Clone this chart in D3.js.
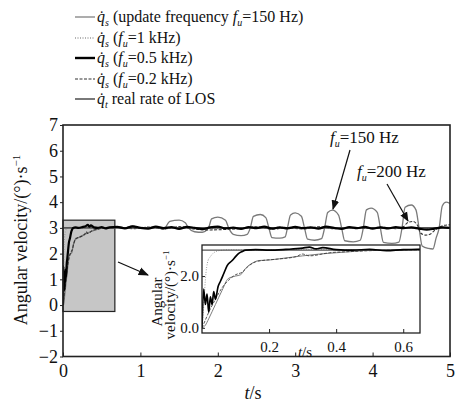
<!DOCTYPE html>
<html><head><meta charset="utf-8">
<script src="https://cdn.jsdelivr.net/npm/d3@7"></script>
<style>
body{margin:0;background:#fff}
text{font-family:"Liberation Serif","Times New Roman",serif;fill:#111}
</style>
</head><body><div id="chart"></div><script>
// ---- data ----
const t150 = [0,0.01,0.02,0.04,0.06,0.078,0.1,0.115,0.13,0.15,0.17,0.2,0.25,0.3,0.35,0.4,0.45,0.5,0.6,
  0.7,0.8,0.9,1.0,1.1,1.2,1.3,1.38,1.5,1.58,1.62,1.7,1.8,1.88,1.92,2.0,2.1,2.14,2.2,2.3,2.38,
  2.42,2.46,2.55,2.62,2.66,2.7,2.8,2.87,2.9,2.94,3.0,3.08,3.12,3.16,3.25,3.34,3.38,3.42,3.48,3.56,
  3.6,3.64,3.75,3.84,3.88,3.92,3.98,4.06,4.1,4.14,4.25,4.34,4.38,4.42,4.5,4.56,4.6,4.64,4.72,4.78,
  4.82,4.86,4.9,4.95,5.0];
const v150 = [0,0.1,0.35,0.9,1.45,1.9,2.0,2.05,2.3,2.5,2.6,2.62,2.7,2.78,2.85,2.9,2.95,3.0,3.02,
  3.05,3.0,3.08,2.98,3.0,3.05,2.95,3.25,3.3,3.2,3.0,2.85,2.83,3.0,3.35,3.42,3.3,3.0,2.75,2.7,2.75,
  3.0,3.45,3.52,3.4,3.0,2.62,2.6,2.65,3.0,3.5,3.58,3.45,3.0,2.56,2.52,2.58,3.0,3.6,3.69,3.5,
  3.0,2.5,2.46,2.52,3.0,3.7,3.77,3.6,3.0,2.44,2.4,2.45,3.0,3.8,3.89,3.7,3.0,2.3,2.2,2.18,
  2.6,3.0,3.85,4.0,3.95];

const t1k = [0,0.005,0.01,0.018,0.025,0.033,0.05,0.08,0.15,0.3,0.5,1,2,3,4,5];
const v1k = [0,0.8,1.85,2.6,2.75,2.88,2.98,3.02,3.0,3.03,3.0,3.02,2.98,3.02,2.99,3.0];

const t500 = [0,0.005,0.01,0.015,0.02,0.025,0.03,0.035,0.04,0.048,0.055,0.065,0.075,0.09,0.1,0.107,0.12,0.13,0.16,0.2,0.25,0.3,0.32,0.34,0.36,0.4,0.45,0.5,0.55,0.6,
  0.7,0.8,0.9,1.0,1.1,1.2,1.3,1.4,1.5,1.6,1.7,1.8,1.9,2.0,2.1,2.2,2.3,2.4,2.5,2.6,2.7,2.8,2.9,3.0,
  3.1,3.2,3.3,3.4,3.5,3.6,3.7,3.8,3.9,4.0,4.1,4.2,4.3,4.4,4.5,4.6,4.7,4.8,4.9,5.0];
const v500 = [0,1.5,0.9,1.3,0.6,1.2,0.9,1.4,1.1,1.6,1.8,2.1,2.4,2.6,2.75,2.85,2.95,3.0,3.02,3.0,3.03,3.08,3.12,3.05,3.1,3.02,3.0,3.03,2.98,3.02,
  3.04,2.98,3.06,3.0,2.97,3.05,2.99,3.03,2.96,3.04,3.0,2.95,3.02,3.05,2.98,3.01,2.96,3.03,2.99,3.05,2.97,3.02,2.98,3.04,
  2.99,3.02,2.97,3.05,3.0,2.96,3.03,2.99,3.04,2.97,3.02,2.98,3.03,2.99,3.02,2.97,2.93,2.97,3.02,3.0];

const t200 = [0,0.01,0.02,0.04,0.06,0.08,0.1,0.12,0.14,0.16,0.18,0.22,0.28,0.3,0.32,0.38,0.45,0.5,0.55,0.6,
  0.7,0.9,1.1,1.3,1.5,1.7,1.9,2.1,2.3,2.5,2.7,2.9,3.1,3.3,3.5,3.7,3.9,4.1,4.3,4.4,4.45,4.52,4.58,4.62,4.68,4.74,4.8,4.85,4.92,5.0];
const v200 = [0,0.3,0.6,1.1,1.55,1.85,2.05,2.15,2.4,2.55,2.6,2.65,2.75,2.85,2.78,2.9,2.95,2.98,3.0,3.0,
  3.02,2.97,3.03,2.96,3.05,2.95,2.92,2.94,2.97,3.04,2.95,3.0,2.96,3.04,2.97,3.02,2.98,3.03,2.97,3.05,3.2,3.25,3.1,2.8,2.72,2.75,2.9,3.0,3.1,3.12];

const tReal = [0,5];
const vReal = [3,3];

const xTicks = [0,1,2,3,4,5];
const yTicks = [-2,-1,0,1,2,3,4,5,6,7];
const insetXTicks = [0.2,0.4,0.6];
const insetYTicks = [0,2];

// legend text segments: i = italic, sub = italic subscript, n = normal
const legendRows = [
  [["q\u0307","i"],["s","sub"],[" (update frequency ","n"],["f","i"],["u","sub"],["=150 Hz)","n"]],
  [["q\u0307","i"],["s","sub"],[" (","n"],["f","i"],["u","sub"],["=1 kHz)","n"]],
  [["q\u0307","i"],["s","sub"],[" (","n"],["f","i"],["u","sub"],["=0.5 kHz)","n"]],
  [["q\u0307","i"],["s","sub"],[" (","n"],["f","i"],["u","sub"],["=0.2 kHz)","n"]],
  [["q\u0307","i"],["t","sub"],[" real rate of LOS","n"]]
];

// ---- series styles ----
const series = [
  {t: t150, v: v150, color: "#7a7a7a", w: 1.3, dash: null},
  {t: t1k, v: v1k, color: "#9a9a9a", w: 1.3, dash: "1,1.5"},
  {t: t200, v: v200, color: "#333", w: 1.1, dash: "3,1.5"},
  {t: tReal, v: vReal, color: "#555", w: 1.6, dash: null},
  {t: t500, v: v500, color: "#000", w: 2.2, dash: null}
];
const legendStyle = [
  {color: "#8a8a8a", w: 1.4, dash: null},
  {color: "#9a9a9a", w: 1.3, dash: "1,1.5"},
  {color: "#000", w: 2.4, dash: null},
  {color: "#333", w: 1.1, dash: "3,1.5"},
  {color: "#6a6a6a", w: 1.8, dash: null}
];

const W = 459, H = 404;
const svg = d3.select("#chart").append("svg").attr("width", W).attr("height", H);

const x = d3.scaleLinear().domain([0,5]).range([63,450]);
const y = d3.scaleLinear().domain([-2,7]).range([356.5,125]);

// clip for main plot
const defs = svg.append("defs");
defs.append("clipPath").attr("id","mainClip").append("rect")
  .attr("x",63).attr("y",125).attr("width",387).attr("height",231.5);

// gray zoom region
svg.append("rect")
  .attr("x", x(0)).attr("y", y(3.3))
  .attr("width", x(0.67)-x(0)).attr("height", y(-0.25)-y(3.3))
  .attr("fill","#c6c6c6").attr("stroke","#222").attr("stroke-width",1.2);

function drawLines(g, xs, ys, clip, k) {
  const gg = g.append("g").attr("clip-path", `url(#${clip})`);
  series.forEach(s => {
    const pts = s.t.map((t,i) => [t, s.v[i]]);
    gg.append("path")
      .attr("d", d3.line().x(d => xs(d[0])).y(d => ys(d[1])).curve(d3.curveMonotoneX)(pts))
      .attr("fill","none").attr("stroke", s.color).attr("stroke-width", s.w * k)
      .attr("stroke-dasharray", s.dash).attr("stroke-linejoin","round");
  });
}
drawLines(svg, x, y, "mainClip", 1);

// main frame
svg.append("rect").attr("x",63).attr("y",125).attr("width",387).attr("height",231.5)
  .attr("fill","none").attr("stroke","#222").attr("stroke-width",1.6);

// axes
const xAxis = svg.append("g").attr("transform","translate(0,356.5)")
  .call(d3.axisBottom(x).tickValues(xTicks).tickSizeInner(-4).tickSizeOuter(0).tickPadding(8).tickFormat(d3.format("d")));
xAxis.select(".domain").remove();
xAxis.selectAll("text").attr("font-size",18).attr("fill","#111");
xAxis.selectAll("line").attr("stroke","#222");

const yAxis = svg.append("g").attr("transform","translate(63,0)")
  .call(d3.axisLeft(y).tickValues(yTicks).tickSizeInner(3).tickSizeOuter(0).tickPadding(2)
    .tickFormat(d => d < 0 ? "\u2212" + Math.abs(d) : d));
yAxis.select(".domain").remove();
yAxis.selectAll("text").attr("font-size",18).attr("fill","#111");
yAxis.selectAll("line").attr("stroke","#222");

// axis titles
const yl = svg.append("text").attr("transform","translate(27,240) rotate(-90)")
  .attr("text-anchor","middle").attr("font-size",18);
yl.append("tspan").text("Angular velocity/(\u00b0)\u00b7s");
yl.append("tspan").attr("dy",-7).attr("font-size",11).text("\u22121");

const xl = svg.append("text").attr("x",253).attr("y",399).attr("text-anchor","middle").attr("font-size",18);
xl.append("tspan").attr("font-style","italic").text("t");
xl.append("tspan").text("/s");

// arrow marker
defs.append("marker").attr("id","arr").attr("viewBox","0 0 10 10").attr("refX",9).attr("refY",5)
  .attr("markerWidth",8).attr("markerHeight",8).attr("orient","auto-start-reverse")
  .append("path").attr("d","M0,1 L10,5 L0,9 Z").attr("fill","#111");

svg.append("line").attr("x1",118).attr("y1",262).attr("x2",148).attr("y2",275)
  .attr("stroke","#111").attr("stroke-width",1.3).attr("marker-end","url(#arr)");

// ---- inset ----
const xi = d3.scaleLinear().domain([0,0.65]).range([202,420]);
const yi = d3.scaleLinear().domain([-0.2,3.2]).range([333,245]);
defs.append("clipPath").attr("id","insetClip").append("rect")
  .attr("x",202).attr("y",245).attr("width",218).attr("height",88);

svg.append("rect").attr("x",202).attr("y",245).attr("width",218).attr("height",88).attr("fill","#fff");
drawLines(svg, xi, yi, "insetClip", 0.75);
svg.append("rect").attr("x",202).attr("y",245).attr("width",218).attr("height",88)
  .attr("fill","none").attr("stroke","#222").attr("stroke-width",1.3);

const xiAxis = svg.append("g").attr("transform","translate(0,333)")
  .call(d3.axisBottom(xi).tickValues(insetXTicks).tickSizeInner(-4).tickSizeOuter(0).tickPadding(8)
    .tickFormat(d3.format(".1f")));
xiAxis.select(".domain").remove();
xiAxis.selectAll("text").attr("font-size",15).attr("fill","#333");
xiAxis.selectAll("line").attr("stroke","#222");

const yiAxis = svg.append("g").attr("transform","translate(202,0)")
  .call(d3.axisLeft(yi).tickValues(insetYTicks).tickSizeInner(-3).tickSizeOuter(0).tickPadding(3));
yiAxis.select(".domain").remove();
yiAxis.selectAll("text").attr("font-size",15).attr("fill","#333");
yiAxis.selectAll("line").attr("stroke","#222");

const xil = svg.append("text").attr("x",305).attr("y",357).attr("text-anchor","middle").attr("font-size",15);
xil.append("tspan").attr("font-style","italic").text("t");
xil.append("tspan").text("/s");

svg.append("text").attr("transform","translate(162,302) rotate(-90)")
  .attr("text-anchor","middle").attr("font-size",15).text("Angular");
const yil = svg.append("text").attr("transform","translate(175,295) rotate(-90)")
  .attr("text-anchor","middle").attr("font-size",15);
yil.append("tspan").text("velocity/(\u00b0)\u00b7s");
yil.append("tspan").attr("dy",-6).attr("font-size",9).text("\u22121");

// ---- annotations ----
function fuLabel(xp, yp, val) {
  const t = svg.append("text").attr("x",xp).attr("y",yp).attr("font-size",17);
  t.append("tspan").attr("font-style","italic").text("f");
  t.append("tspan").attr("font-style","italic").attr("font-size",10).attr("dy",4).text("u");
  t.append("tspan").attr("dy",-4).text("=" + val);
}
fuLabel(330,143,"150 Hz");
fuLabel(357,177,"200 Hz");
svg.append("line").attr("x1",350).attr("y1",150).attr("x2",333).attr("y2",209)
  .attr("stroke","#111").attr("stroke-width",1.2).attr("marker-end","url(#arr)");
svg.append("line").attr("x1",387).attr("y1",184).attr("x2",408).attr("y2",221)
  .attr("stroke","#111").attr("stroke-width",1.2).attr("marker-end","url(#arr)");

// ---- legend ----
const legY = [17,38,58,79,99];
legendRows.forEach((row, i) => {
  const st = legendStyle[i];
  svg.append("line").attr("x1",75).attr("x2",95).attr("y1",legY[i]).attr("y2",legY[i])
    .attr("stroke",st.color).attr("stroke-width",st.w).attr("stroke-dasharray",st.dash);
  const t = svg.append("text").attr("x",97).attr("y",legY[i]+5).attr("font-size",16);
  let shifted = false;
  row.forEach(([txt, kind]) => {
    const sp = t.append("tspan").text(txt);
    if (kind === "i" || kind === "sub") sp.attr("font-style","italic");
    if (kind === "sub") { sp.attr("font-size",10).attr("dy",4); shifted = true; }
    else if (shifted) { sp.attr("dy",-4); shifted = false; }
  });
});
</script></body></html>
